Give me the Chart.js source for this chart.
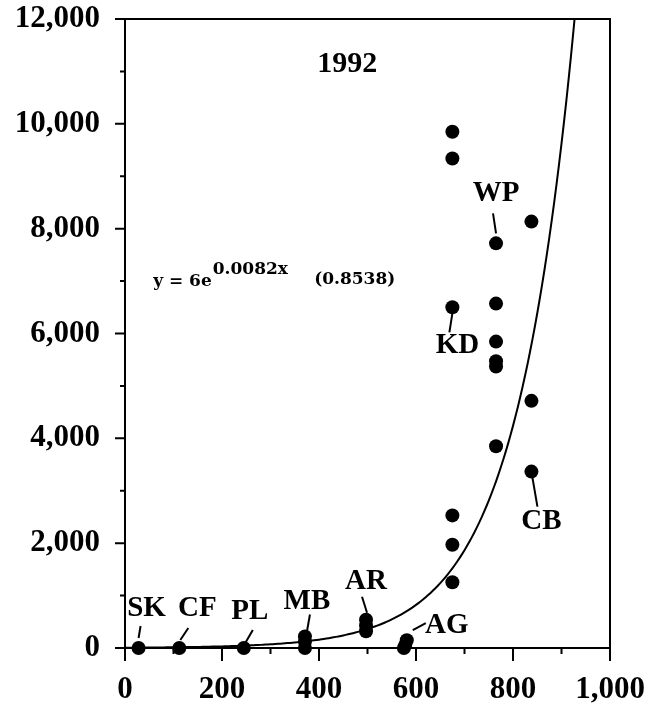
<!DOCTYPE html>
<html>
<head>
<meta charset="utf-8">
<script src="https://cdn.jsdelivr.net/npm/chart.js@4/dist/chart.umd.min.js"></script>
<style>
  html, body { margin: 0; padding: 0; background: #ffffff; }
  #c { display: block; }
</style>
</head>
<body>
<canvas id="c" width="651" height="713"></canvas>
<script>
// Sampled sites: distance (x) against count (y), 1992
const pointX = [28, 112, 245,
                371, 371, 371,
                497, 497, 497,
                575, 578, 581,
                675, 675, 675, 675, 675, 675,
                765, 765, 765, 765, 765, 765,
                838, 838, 838];
const pointY = [0, 0, 0,
                0, 120, 220,
                320, 430, 540,
                0, 60, 150,
                9850, 9340, 6500, 2530, 1970, 1255,
                7720, 6570, 5845, 5470, 5370, 3850,
                8135, 4715, 3365];

// Site labels and the point each one points to
const siteNames = ['SK', 'CF', 'PL', 'MB', 'AR', 'AG', 'KD', 'WP', 'CB'];
const siteX     = [28, 112, 245, 371, 497, 581, 675, 765, 838];
const siteY     = [0, 0, 0, 220, 540, 150, 6500, 7720, 3365];

// Fitted exponential y = a * e^(b x), r value shown in brackets
const fitA = 6;
const fitB = 0.0082;
const fitR = '0.8538';
const fitXMax = 930;
const yearLabel = '1992';

// Axis tick labels
const xTickLabels = ['0', '200', '400', '600', '800', '1,000'];
const yTickLabels = ['0', '2,000', '4,000', '6,000', '8,000', '10,000', '12,000'];

// Label placement (pixel offsets from the marked point): text centre, leader start, leader end
const labelStyle = {
  SK: { tx: 8,  ty: -39, l: [2, -22, 0, -10] },
  CF: { tx: 18, ty: -39, l: [9, -20, 1, -8] },
  PL: { tx: 6,  ty: -36, l: [9, -18, 2, -6] },
  MB: { tx: 2,  ty: -35, l: [5, -22, 2, -5] },
  AR: { tx: 0,  ty: -38, l: [-4, -23, 1, -7] },
  AG: { tx: 40, ty: -15, l: [6, -10, 19, -17] },
  KD: { tx: 5,  ty: 38,  l: [0, 6, -3, 25] },
  WP: { tx: 0,  ty: -50, l: [-3, -30, 0, -10] },
  CB: { tx: 10, ty: 50,  l: [1, 6, 6, 35] }
};

const scatterData = pointX.map((x, i) => ({ x: x, y: pointY[i] }));

const fitData = [];
for (let x = 0; x <= fitXMax; x += 5) {
  fitData.push({ x: x, y: fitA * Math.exp(fitB * x) });
}

const frameAndTicks = {
  id: 'frameAndTicks',
  afterDatasetsDraw(chart) {
    const ctx = chart.ctx;
    const a = chart.chartArea;
    const xs = chart.scales.x, ys = chart.scales.y;
    ctx.save();
    ctx.strokeStyle = '#000';
    ctx.lineWidth = 2;
    ctx.strokeRect(a.left, a.top, a.right - a.left, a.bottom - a.top);
    ctx.beginPath();
    for (let v = 0; v <= 1000; v += 100) {
      const px = xs.getPixelForValue(v);
      const len = (v % 200 === 0) ? 13 : 6;
      ctx.moveTo(px, a.bottom);
      ctx.lineTo(px, a.bottom + len);
    }
    for (let v = 0; v <= 12000; v += 1000) {
      const py = ys.getPixelForValue(v);
      const len = (v % 2000 === 0) ? 10 : 5;
      ctx.moveTo(a.left, py);
      ctx.lineTo(a.left - len, py);
    }
    ctx.stroke();

    // Site labels with leader lines
    ctx.font = 'bold 29px "Liberation Serif"';
    ctx.fillStyle = '#000';
    ctx.textAlign = 'center';
    ctx.textBaseline = 'middle';
    ctx.lineWidth = 2;
    siteNames.forEach((name, i) => {
      const s = labelStyle[name];
      const px = xs.getPixelForValue(siteX[i]);
      const py = ys.getPixelForValue(siteY[i]);
      ctx.fillText(name, px + s.tx, py + s.ty);
      ctx.beginPath();
      ctx.moveTo(px + s.l[0], py + s.l[1]);
      ctx.lineTo(px + s.l[2], py + s.l[3]);
      ctx.stroke();
    });

    // Year
    ctx.font = 'bold 30px "Liberation Serif"';
    ctx.fillText(yearLabel, xs.getPixelForValue(458), ys.getPixelForValue(11140));

    // Fit equation
    ctx.textAlign = 'left';
    ctx.font = 'bold 17px "DejaVu Serif"';
    const ex = xs.getPixelForValue(58);
    const ey = ys.getPixelForValue(7000);
    const base = 'y = ' + fitA + 'e';
    ctx.fillText(base, ex, ey);
    const w = ctx.measureText(base).width;
    ctx.fillText(fitB.toFixed(4) + 'x', ex + w + 1, ey - 12);
    ctx.fillText('(' + fitR + ')', xs.getPixelForValue(390), ys.getPixelForValue(7030));
    ctx.restore();
  }
};

new Chart(document.getElementById('c'), {
  type: 'scatter',
  data: {
    datasets: [
      {
        type: 'line',
        data: fitData,
        borderColor: '#000',
        borderWidth: 2,
        pointRadius: 0,
        fill: false,
        tension: 0
      },
      {
        data: scatterData,
        backgroundColor: '#000',
        borderColor: '#000',
        pointRadius: 7,
        borderWidth: 0,
        clip: false
      }
    ]
  },
  options: {
    responsive: false,
    animation: false,
    devicePixelRatio: 1,
    layout: { padding: { top: 19, right: 41, left: 0, bottom: 0 } },
    plugins: { legend: { display: false }, tooltip: { enabled: false } },
    scales: {
      x: {
        type: 'linear',
        min: 0,
        max: 1000,
        grid: { display: false, drawTicks: false },
        border: { display: false },
        ticks: {
          stepSize: 200,
          padding: 23,
          color: '#000',
          font: { family: 'Liberation Serif', size: 31, weight: 'bold' },
          maxRotation: 0,
          callback: (v, i) => xTickLabels[i]
        },
        afterFit: (s) => { s.height = 65; s.paddingLeft = 0; s.paddingRight = 0; }
      },
      y: {
        type: 'linear',
        min: 0,
        max: 12000,
        grid: { display: false, drawTicks: false },
        border: { display: false },
        ticks: {
          stepSize: 2000,
          padding: 25,
          color: '#000',
          font: { family: 'Liberation Serif', size: 31, weight: 'bold' },
          callback: (v, i) => yTickLabels[i]
        },
        afterFit: (s) => { s.width = 125; s.paddingTop = 0; s.paddingBottom = 0; }
      }
    }
  },
  plugins: [frameAndTicks]
});
</script>
</body>
</html>
